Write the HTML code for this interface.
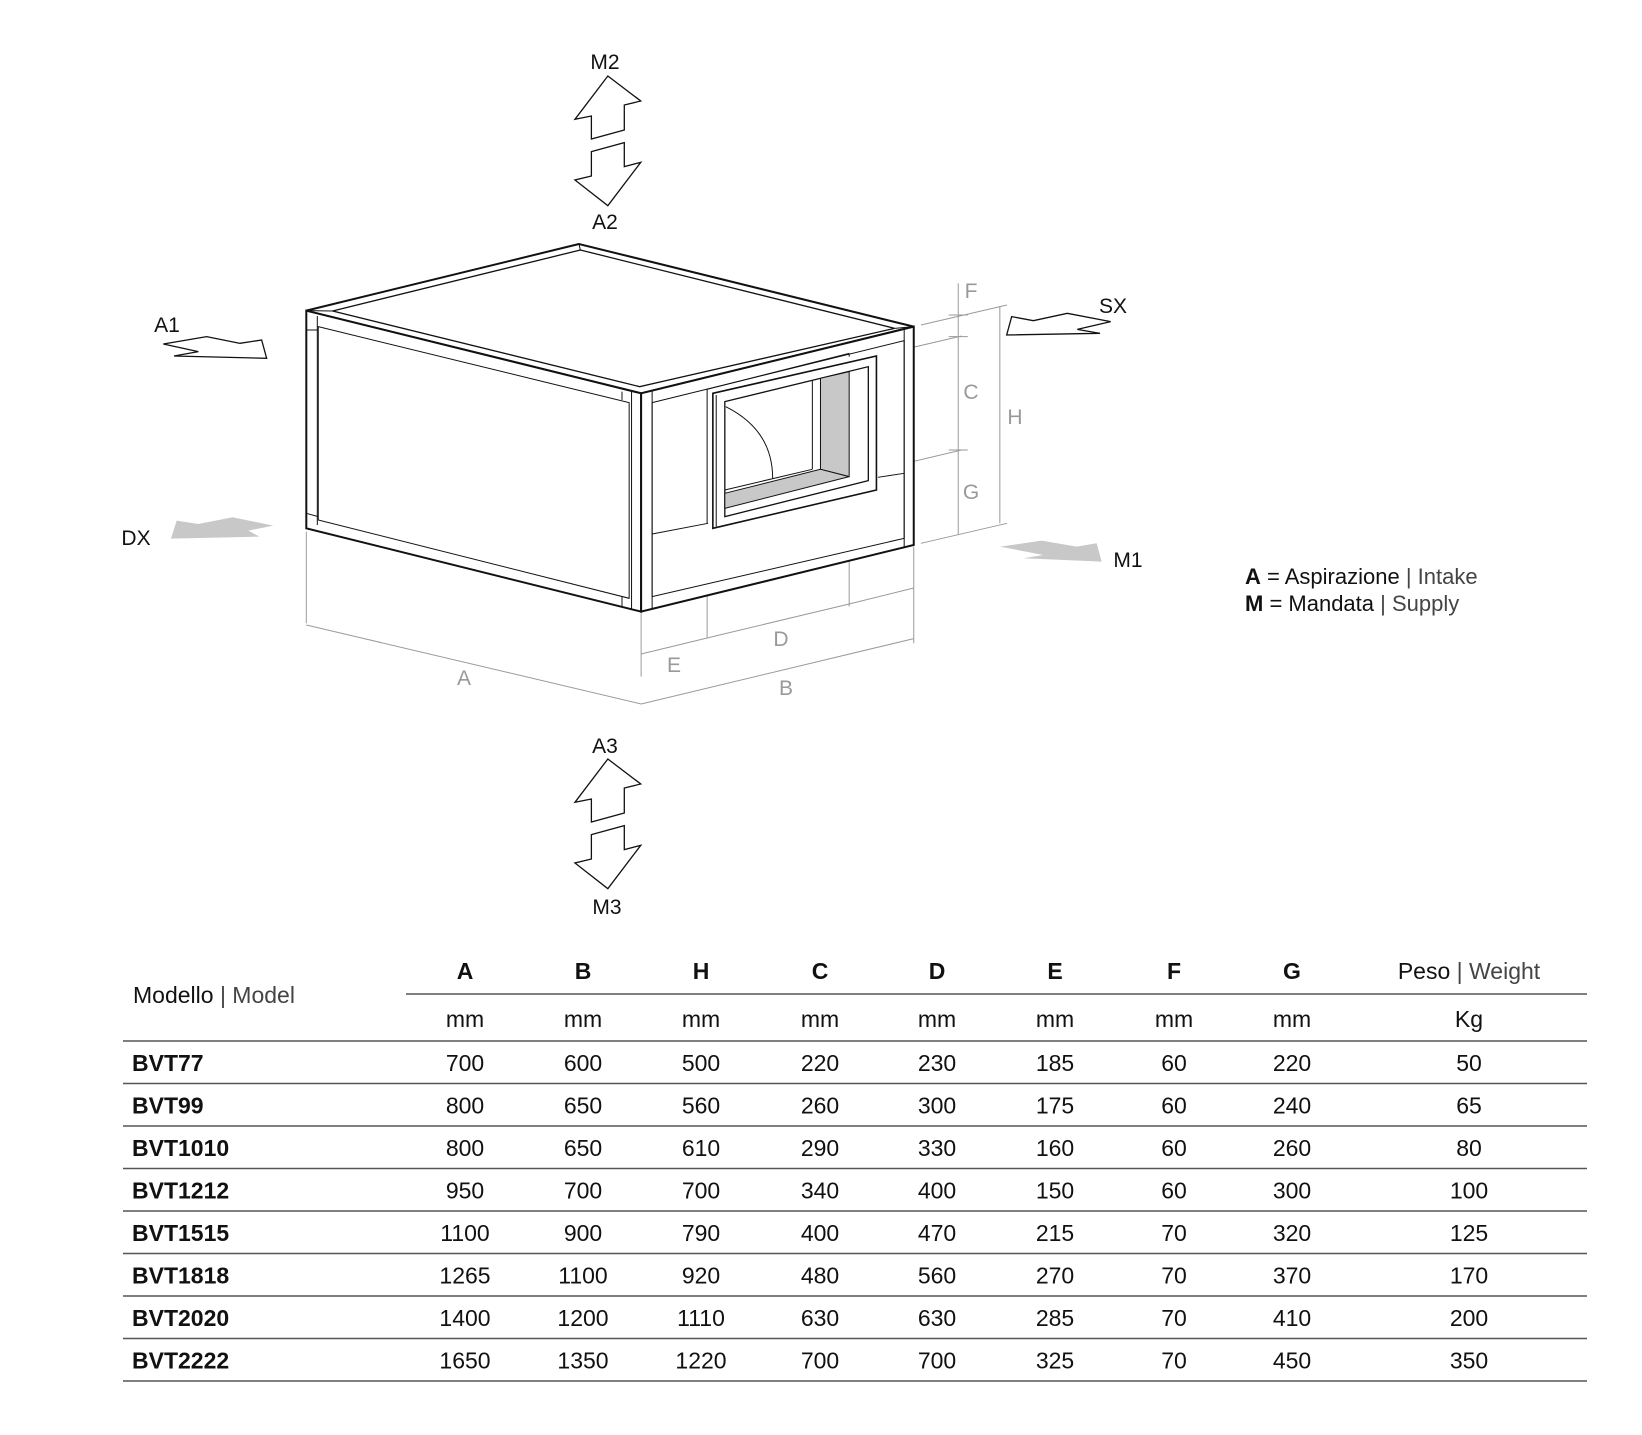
<!DOCTYPE html>
<html><head><meta charset="utf-8"><style>
html,body{margin:0;padding:0;background:#fff;}
svg{display:block;}
text{font-family:"Liberation Sans",sans-serif;}
.t{font-size:23px;fill:#111;text-anchor:middle;}
.b{font-weight:bold;}
.g{font-size:21px;fill:#999;text-anchor:middle;}
.k{font-size:21px;fill:#111;text-anchor:middle;}
.s{vector-effect:non-scaling-stroke;}
</style></head><body>
<svg width="1642" height="1435" viewBox="0 0 1642 1435" xmlns="http://www.w3.org/2000/svg">
<rect width="1642" height="1435" fill="#fff"/>

<g transform="translate(100,30) scale(0.3827,0.3333)" fill="#fff" stroke="#111" stroke-width="1.3">
<polygon class="s" points="1327,138 1413,213 1370,225 1370,300 1284,327 1284,258 1241,268"/>
<polygon class="s" points="1284,365 1370,338 1370,410 1413,397 1327,527 1241,450 1284,438"/>
</g>
<g transform="translate(100,713) scale(0.3827,0.3333)" fill="#fff" stroke="#111" stroke-width="1.3">
<polygon class="s" points="1327,138 1413,213 1370,225 1370,300 1284,327 1284,258 1241,268"/>
<polygon class="s" points="1284,365 1370,338 1370,410 1413,397 1327,527 1241,450 1284,438"/>
</g>
<text class="k" x="605" y="69">M2</text>
<text class="k" x="605" y="229">A2</text>
<text class="k" x="605" y="753">A3</text>
<text class="k" x="607" y="914">M3</text>

<g transform="translate(100,280) scale(0.3333)">
<polygon class="s" points="190,192 320,170 420,190 485,180 500,235 222,228 295,215" fill="#fff" stroke="#111" stroke-width="1.3"/>
<polygon points="213,776 230,722 295,732 398,712 520,737 445,752 478,770" fill="#c8c8c8"/>
</g>
<text class="k" x="167" y="332">A1</text>
<text class="k" x="136" y="545">DX</text>

<g transform="translate(990,280) scale(0.3333)">
<polygon class="s" points="50,165 65,110 130,122 232,100 362,125 262,148 330,160" fill="#fff" stroke="#111" stroke-width="1.3"/>
<polygon points="30,800 155,782 260,800 320,790 335,845 100,835 160,825" fill="#c8c8c8"/>
</g>
<text class="k" x="1113" y="313">SX</text>
<text class="k" x="1128" y="567">M1</text>

<g transform="translate(280,230) scale(0.4783,0.3333)" fill="none" stroke="#111">
<g stroke="#9a9a9a" stroke-width="1">
<line class="s" x1="1418" y1="160" x2="1418" y2="915"/>
<line class="s" x1="1505" y1="228" x2="1505" y2="880"/>
<line class="s" x1="1340" y1="285" x2="1520" y2="225"/>
<line class="s" x1="1255" y1="375" x2="1425" y2="318"/>
<line class="s" x1="1205" y1="735" x2="1425" y2="660"/>
<line class="s" x1="1340" y1="940" x2="1520" y2="880"/>
<line class="s" x1="1398" y1="255" x2="1438" y2="255"/>
<line class="s" x1="1398" y1="320" x2="1438" y2="320"/>
<line class="s" x1="1398" y1="660" x2="1438" y2="660"/>
<line class="s" x1="55" y1="905" x2="55" y2="1180"/>
<line class="s" x1="755" y1="1150" x2="755" y2="1340"/>
<line class="s" x1="1325" y1="950" x2="1325" y2="1240"/>
<line class="s" x1="893" y1="880" x2="893" y2="1225"/>
<line class="s" x1="1190" y1="745" x2="1190" y2="1130"/>
<line class="s" x1="55" y1="1185" x2="755" y2="1422"/>
<line class="s" x1="755" y1="1422" x2="1325" y2="1226"/>
<line class="s" x1="755" y1="1272" x2="893" y2="1224"/>
<line class="s" x1="893" y1="1224" x2="1190" y2="1122"/>
<line class="s" x1="1190" y1="1122" x2="1325" y2="1074"/>
</g>
<polygon class="s" stroke-width="2" fill="#fff" points="625,42 55,242 755,490 1325,290"/>
<polygon class="s" stroke-width="1.3" points="628,60 110,243 752,470 1285,295"/>
<line class="s" stroke-width="1" x1="55" y1="242" x2="110" y2="243"/>
<line class="s" stroke-width="1" x1="625" y1="42" x2="628" y2="60"/>
<line class="s" stroke-width="1" x1="1325" y1="290" x2="1285" y2="295"/>
<polygon class="s" stroke-width="2" fill="#fff" points="55,242 755,490 755,1145 55,895"/>
<line class="s" stroke-width="1" x1="78" y1="258" x2="78" y2="885"/>
<line class="s" stroke-width="1" x1="735" y1="483" x2="735" y2="1138"/>
<polygon class="s" stroke-width="1" points="80,290 730,518 730,1105 80,870"/>
<line class="s" stroke-width="1" x1="55" y1="300" x2="80" y2="300"/>
<line class="s" stroke-width="1" x1="55" y1="850" x2="80" y2="860"/>
<line class="s" stroke-width="1" x1="715" y1="485" x2="715" y2="510"/>
<line class="s" stroke-width="1" x1="715" y1="1100" x2="715" y2="1130"/>
<polygon class="s" stroke-width="2" fill="#fff" points="755,490 1325,290 1325,945 755,1145"/>
<line class="s" stroke-width="1" x1="778" y1="482" x2="778" y2="1138"/>
<line class="s" stroke-width="1" x1="1305" y1="297" x2="1305" y2="952"/>
<polygon class="s" stroke-width="1" points="778,518 1305,332 1305,925 778,1100"/>
<line class="s" stroke-width="1" x1="778" y1="912" x2="895" y2="880"/>
<line class="s" stroke-width="1" x1="1250" y1="742" x2="1305" y2="730"/>
<line class="s" stroke-width="1" x1="893" y1="478" x2="893" y2="880"/>
<line class="s" stroke-width="1" x1="1190" y1="370" x2="1190" y2="380"/>
<line class="s" stroke-width="1" x1="893" y1="478" x2="1190" y2="370"/>
<polygon class="s" stroke-width="1.6" fill="#fff" points="905,490 1247,378 1247,780 905,895"/>
<line class="s" stroke-width="1" x1="912" y1="495" x2="912" y2="890"/>
<polygon class="s" stroke-width="1.3" points="930,515 1230,410 1230,752 930,860"/>
<polygon class="s" stroke-width="1" fill="#c8c8c8" points="1130,445 1190,425 1190,740 1130,718"/>
<polygon class="s" stroke-width="1" fill="#c8c8c8" points="930,790 1130,718 1190,740 930,835"/>
<line class="s" stroke-width="1" x1="1113" y1="452" x2="1113" y2="718"/>
<line class="s" stroke-width="1" x1="930" y1="780" x2="1113" y2="718"/>
<path class="s" stroke-width="1" d="M932,530 Q1030,600 1030,745"/>
</g>

<text class="g" x="971" y="298">F</text>
<text class="g" x="971" y="399">C</text>
<text class="g" x="1015" y="424">H</text>
<text class="g" x="971" y="499">G</text>
<text class="g" x="464" y="685">A</text>
<text class="g" x="674" y="672">E</text>
<text class="g" x="781" y="646">D</text>
<text class="g" x="786" y="695">B</text>

<text x="1245" y="584" style="font-size:22px;fill:#111"><tspan font-weight="bold">A</tspan> = Aspirazione <tspan fill="#444">| Intake</tspan></text>
<text x="1245" y="611" style="font-size:22px;fill:#111"><tspan font-weight="bold">M</tspan> = Mandata <tspan fill="#444">| Supply</tspan></text>

<g stroke="#555" stroke-width="1.5">
<line x1="406" y1="994" x2="1587" y2="994"/>
<line x1="123" y1="1041" x2="1587" y2="1041"/>
<line x1="123" y1="1083.5" x2="1587" y2="1083.5"/>
<line x1="123" y1="1126" x2="1587" y2="1126"/>
<line x1="123" y1="1168.5" x2="1587" y2="1168.5"/>
<line x1="123" y1="1211" x2="1587" y2="1211"/>
<line x1="123" y1="1253.5" x2="1587" y2="1253.5"/>
<line x1="123" y1="1296" x2="1587" y2="1296"/>
<line x1="123" y1="1338.5" x2="1587" y2="1338.5"/>
<line x1="123" y1="1381" x2="1587" y2="1381"/>
</g>
<text x="133" y="1003" style="font-size:23px;fill:#111">Modello <tspan fill="#444">| Model</tspan></text>
<text class="t b" x="465" y="979">A</text><text class="t b" x="583" y="979">B</text><text class="t b" x="701" y="979">H</text><text class="t b" x="820" y="979">C</text><text class="t b" x="937" y="979">D</text><text class="t b" x="1055" y="979">E</text><text class="t b" x="1174" y="979">F</text><text class="t b" x="1292" y="979">G</text>
<text class="t" x="1469" y="979">Peso <tspan fill="#444">| Weight</tspan></text>
<text class="t" x="465" y="1027">mm</text><text class="t" x="583" y="1027">mm</text><text class="t" x="701" y="1027">mm</text><text class="t" x="820" y="1027">mm</text><text class="t" x="937" y="1027">mm</text><text class="t" x="1055" y="1027">mm</text><text class="t" x="1174" y="1027">mm</text><text class="t" x="1292" y="1027">mm</text><text class="t" x="1469" y="1027">Kg</text>

<text x="132" y="1071" style="font-size:23px;font-weight:bold;fill:#111">BVT77</text>
<text class="t" x="465" y="1071">700</text><text class="t" x="583" y="1071">600</text><text class="t" x="701" y="1071">500</text><text class="t" x="820" y="1071">220</text><text class="t" x="937" y="1071">230</text><text class="t" x="1055" y="1071">185</text><text class="t" x="1174" y="1071">60</text><text class="t" x="1292" y="1071">220</text><text class="t" x="1469" y="1071">50</text>

<text x="132" y="1113.5" style="font-size:23px;font-weight:bold;fill:#111">BVT99</text>
<text class="t" x="465" y="1113.5">800</text><text class="t" x="583" y="1113.5">650</text><text class="t" x="701" y="1113.5">560</text><text class="t" x="820" y="1113.5">260</text><text class="t" x="937" y="1113.5">300</text><text class="t" x="1055" y="1113.5">175</text><text class="t" x="1174" y="1113.5">60</text><text class="t" x="1292" y="1113.5">240</text><text class="t" x="1469" y="1113.5">65</text>

<text x="132" y="1156" style="font-size:23px;font-weight:bold;fill:#111">BVT1010</text>
<text class="t" x="465" y="1156">800</text><text class="t" x="583" y="1156">650</text><text class="t" x="701" y="1156">610</text><text class="t" x="820" y="1156">290</text><text class="t" x="937" y="1156">330</text><text class="t" x="1055" y="1156">160</text><text class="t" x="1174" y="1156">60</text><text class="t" x="1292" y="1156">260</text><text class="t" x="1469" y="1156">80</text>

<text x="132" y="1198.5" style="font-size:23px;font-weight:bold;fill:#111">BVT1212</text>
<text class="t" x="465" y="1198.5">950</text><text class="t" x="583" y="1198.5">700</text><text class="t" x="701" y="1198.5">700</text><text class="t" x="820" y="1198.5">340</text><text class="t" x="937" y="1198.5">400</text><text class="t" x="1055" y="1198.5">150</text><text class="t" x="1174" y="1198.5">60</text><text class="t" x="1292" y="1198.5">300</text><text class="t" x="1469" y="1198.5">100</text>

<text x="132" y="1241" style="font-size:23px;font-weight:bold;fill:#111">BVT1515</text>
<text class="t" x="465" y="1241">1100</text><text class="t" x="583" y="1241">900</text><text class="t" x="701" y="1241">790</text><text class="t" x="820" y="1241">400</text><text class="t" x="937" y="1241">470</text><text class="t" x="1055" y="1241">215</text><text class="t" x="1174" y="1241">70</text><text class="t" x="1292" y="1241">320</text><text class="t" x="1469" y="1241">125</text>

<text x="132" y="1283.5" style="font-size:23px;font-weight:bold;fill:#111">BVT1818</text>
<text class="t" x="465" y="1283.5">1265</text><text class="t" x="583" y="1283.5">1100</text><text class="t" x="701" y="1283.5">920</text><text class="t" x="820" y="1283.5">480</text><text class="t" x="937" y="1283.5">560</text><text class="t" x="1055" y="1283.5">270</text><text class="t" x="1174" y="1283.5">70</text><text class="t" x="1292" y="1283.5">370</text><text class="t" x="1469" y="1283.5">170</text>

<text x="132" y="1326" style="font-size:23px;font-weight:bold;fill:#111">BVT2020</text>
<text class="t" x="465" y="1326">1400</text><text class="t" x="583" y="1326">1200</text><text class="t" x="701" y="1326">1110</text><text class="t" x="820" y="1326">630</text><text class="t" x="937" y="1326">630</text><text class="t" x="1055" y="1326">285</text><text class="t" x="1174" y="1326">70</text><text class="t" x="1292" y="1326">410</text><text class="t" x="1469" y="1326">200</text>

<text x="132" y="1368.5" style="font-size:23px;font-weight:bold;fill:#111">BVT2222</text>
<text class="t" x="465" y="1368.5">1650</text><text class="t" x="583" y="1368.5">1350</text><text class="t" x="701" y="1368.5">1220</text><text class="t" x="820" y="1368.5">700</text><text class="t" x="937" y="1368.5">700</text><text class="t" x="1055" y="1368.5">325</text><text class="t" x="1174" y="1368.5">70</text><text class="t" x="1292" y="1368.5">450</text><text class="t" x="1469" y="1368.5">350</text>
</svg>
</body></html>
